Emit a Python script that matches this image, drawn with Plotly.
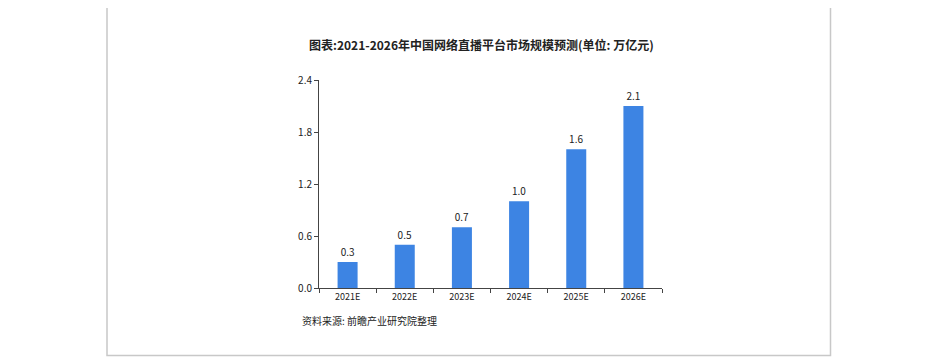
import plotly.graph_objects as go

categories = ["2021E", "2022E", "2023E", "2024E", "2025E", "2026E"]
values = [0.3, 0.5, 0.7, 1.0, 1.6, 2.1]
y_ticks = [0.0, 0.6, 1.2, 1.8, 2.4]

W, H = 936, 357
OFF = 8  # page body margin
L, R, T, B = 319 - OFF, 662 - OFF, 80 - OFF, 288 - OFF

font = "Noto Sans CJK SC"

fig = go.Figure()
fig.add_trace(go.Bar(
    x=categories, y=values,
    marker=dict(color="#3d84e3", line=dict(width=0)),
    width=0.35,
    text=[f"{v:.1f}" for v in values],
    textposition="outside",
    textfont=dict(size=10, color="#222", family=font),
    cliponaxis=False,
))

def px_x(p):
    return (p - OFF - L) / (R - L)

def px_y(p):
    return (B - (p - OFF)) / (B - T)

fig.add_shape(type="rect", xref="paper", yref="paper",
              x0=px_x(107), x1=px_x(830.5), y0=px_y(355.5), y1=px_y(-5),
              line=dict(color="#c8c8c8", width=1.5), fillcolor="rgba(0,0,0,0)", layer="below")

fig.add_annotation(xref="paper", yref="paper", x=px_x(481), y=px_y(45),
                   text="<b>图表:2021-2026年中国网络直播平台市场规模预测(单位: 万亿元)</b>",
                   showarrow=False, xanchor="center", yanchor="middle",
                   font=dict(size=12, color="#222", family=font))
fig.add_annotation(xref="paper", yref="paper", x=px_x(300), y=px_y(320),
                   text="资料来源: 前瞻产业研究院整理",
                   showarrow=False, xanchor="left", yanchor="middle",
                   font=dict(size=10, color="#222", family=font))

fig.update_layout(
    width=W, height=H,
    margin=dict(l=L, r=W - R, t=T, b=H - B, pad=0),
    paper_bgcolor="white", plot_bgcolor="white",
    showlegend=False,
    font=dict(family=font, size=9, color="#222"),
)
fig.update_xaxes(
    showline=True, linecolor="#444", linewidth=1,
    ticks="outside", ticklen=4, tickcolor="#444", tickson="boundaries",
    tickfont=dict(size=9, family=font, color="#222"),
    showgrid=False, zeroline=False, fixedrange=True,
)
fig.update_yaxes(
    range=[0, 2.4], tickvals=y_ticks, tickformat=".1f",
    showline=True, linecolor="#444", linewidth=1,
    ticks="outside", ticklen=4, tickcolor="#444",
    tickfont=dict(size=10, family=font, color="#222"),
    showgrid=False, zeroline=False, fixedrange=True,
)

fig.write_html("out.html")
